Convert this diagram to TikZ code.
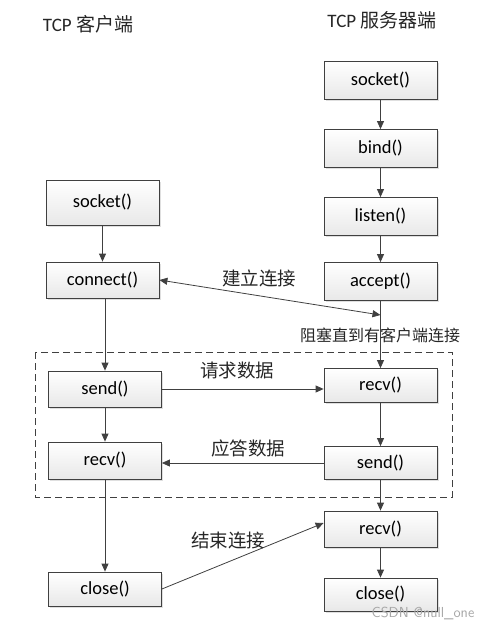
\documentclass[tikz,border=0pt]{standalone}
\usepackage{fontspec}
\setmainfont{Carlito}
\newfontfamily\cjk{Noto Sans CJK SC}
\usetikzlibrary{arrows.meta,shadows}
\definecolor{lnc}{HTML}{404040}
\tikzset{
  fn/.style={draw=lnc, line width=0.8pt, minimum width=113pt, minimum height=#1,
    top color=white, bottom color=gray!18, inner sep=0pt,
    font=\fontsize{18.5}{18.5}\selectfont,
    drop shadow={shadow xshift=1.5pt, shadow yshift=-1.5pt, opacity=0.25, fill=gray}},
  fn/.default=38pt,
  arr/.style={draw=lnc, line width=0.8pt, -{Triangle[length=8pt,width=7pt]}},
  lbl/.style={font=\cjk\fontsize{18.5}{18.5}\selectfont, text=black!85},
  ttl/.style={font=\fontsize{19}{19}\selectfont, text=black!85},
}
\begin{document}
\begin{tikzpicture}[x=1pt,y=-1pt]
\useasboundingbox (0,0) rectangle (489,629);
% titles
\node[ttl] (tc) at (88,24) {TCP {\cjk 客户端}};
\node[ttl] (ts) at (382,20) {TCP {\cjk 服务器端}};
% dashed frame
\draw[lnc, line width=0.8pt, dash pattern=on 7pt off 4pt] (35,352) rectangle (452,497);
% server column
\node[fn] (ssock) at (380.5,80) {socket()};
\node[fn] (sbind) at (380.5,148.5) {bind()};
\node[fn] (slist) at (380.5,216.5) {listen()};
\node[fn] (sacc) at (380.5,281.5) {accept()};
\node[fn=34pt] (srecv) at (380.5,385.5) {recv()};
\node[fn=33pt] (ssend) at (380.5,463) {send()};
\node[fn=36pt] (srecv2) at (380.5,529) {recv()};
\node[fn=33pt] (sclose) at (380.5,594.5) {close()};
% client column
\node[fn=45pt] (csock) at (102.5,202.5) {socket()};
\node[fn=36pt] (cconn) at (102.5,280) {connect()};
\node[fn=36pt] (csend) at (105,389) {send()};
\node[fn=37pt] (crecv) at (105,460.5) {recv()};
\node[fn=34pt] (cclose) at (105,589) {close()};
% server arrows
\draw[arr] (ssock) -- (sbind);
\draw[arr] (sbind) -- (slist);
\draw[arr] (slist) -- (sacc);
\draw[arr] (sacc) -- (srecv);
\draw[arr] (srecv) -- (ssend);
\draw[arr] (ssend) -- (srecv2);
\draw[arr] (srecv2) -- (sclose);
% client arrows
\draw[arr] (csock) -- (cconn);
\draw[arr] (cconn.south -| csend) -- (csend);
\draw[arr] (csend) -- (crecv);
\draw[arr] (crecv) -- (cclose);
% cross arrows
\coordinate (blk) at (380.5,315);
\draw[arr, {Triangle[length=8pt,width=7pt]}-{Triangle[length=8pt,width=7pt]}] (cconn.east) -- (blk);
\draw[arr] (csend) -- (csend -| srecv.west);
\draw[arr] (ssend.west) -- (ssend.west -| crecv.east);
\draw[arr] (cclose.east) -- ([yshift=6pt]srecv2.west);
% labels
\node[lbl] (l1) at (259,278) {建立连接};
\node[lbl, font=\cjk\fontsize{16}{16}\selectfont] (l2) at (380,335) {阻塞直到有客户端连接};
\node[lbl] (l3) at (237,370) {请求数据};
\node[lbl] (l4) at (248,448) {应答数据};
\node[lbl] (l5) at (228,540) {结束连接};
\node[font=\sffamily\fontsize{14.5}{14.5}\selectfont, text=gray!70] (wm) at (423,613) {CSDN @null\_one};
\end{tikzpicture}
\end{document}
